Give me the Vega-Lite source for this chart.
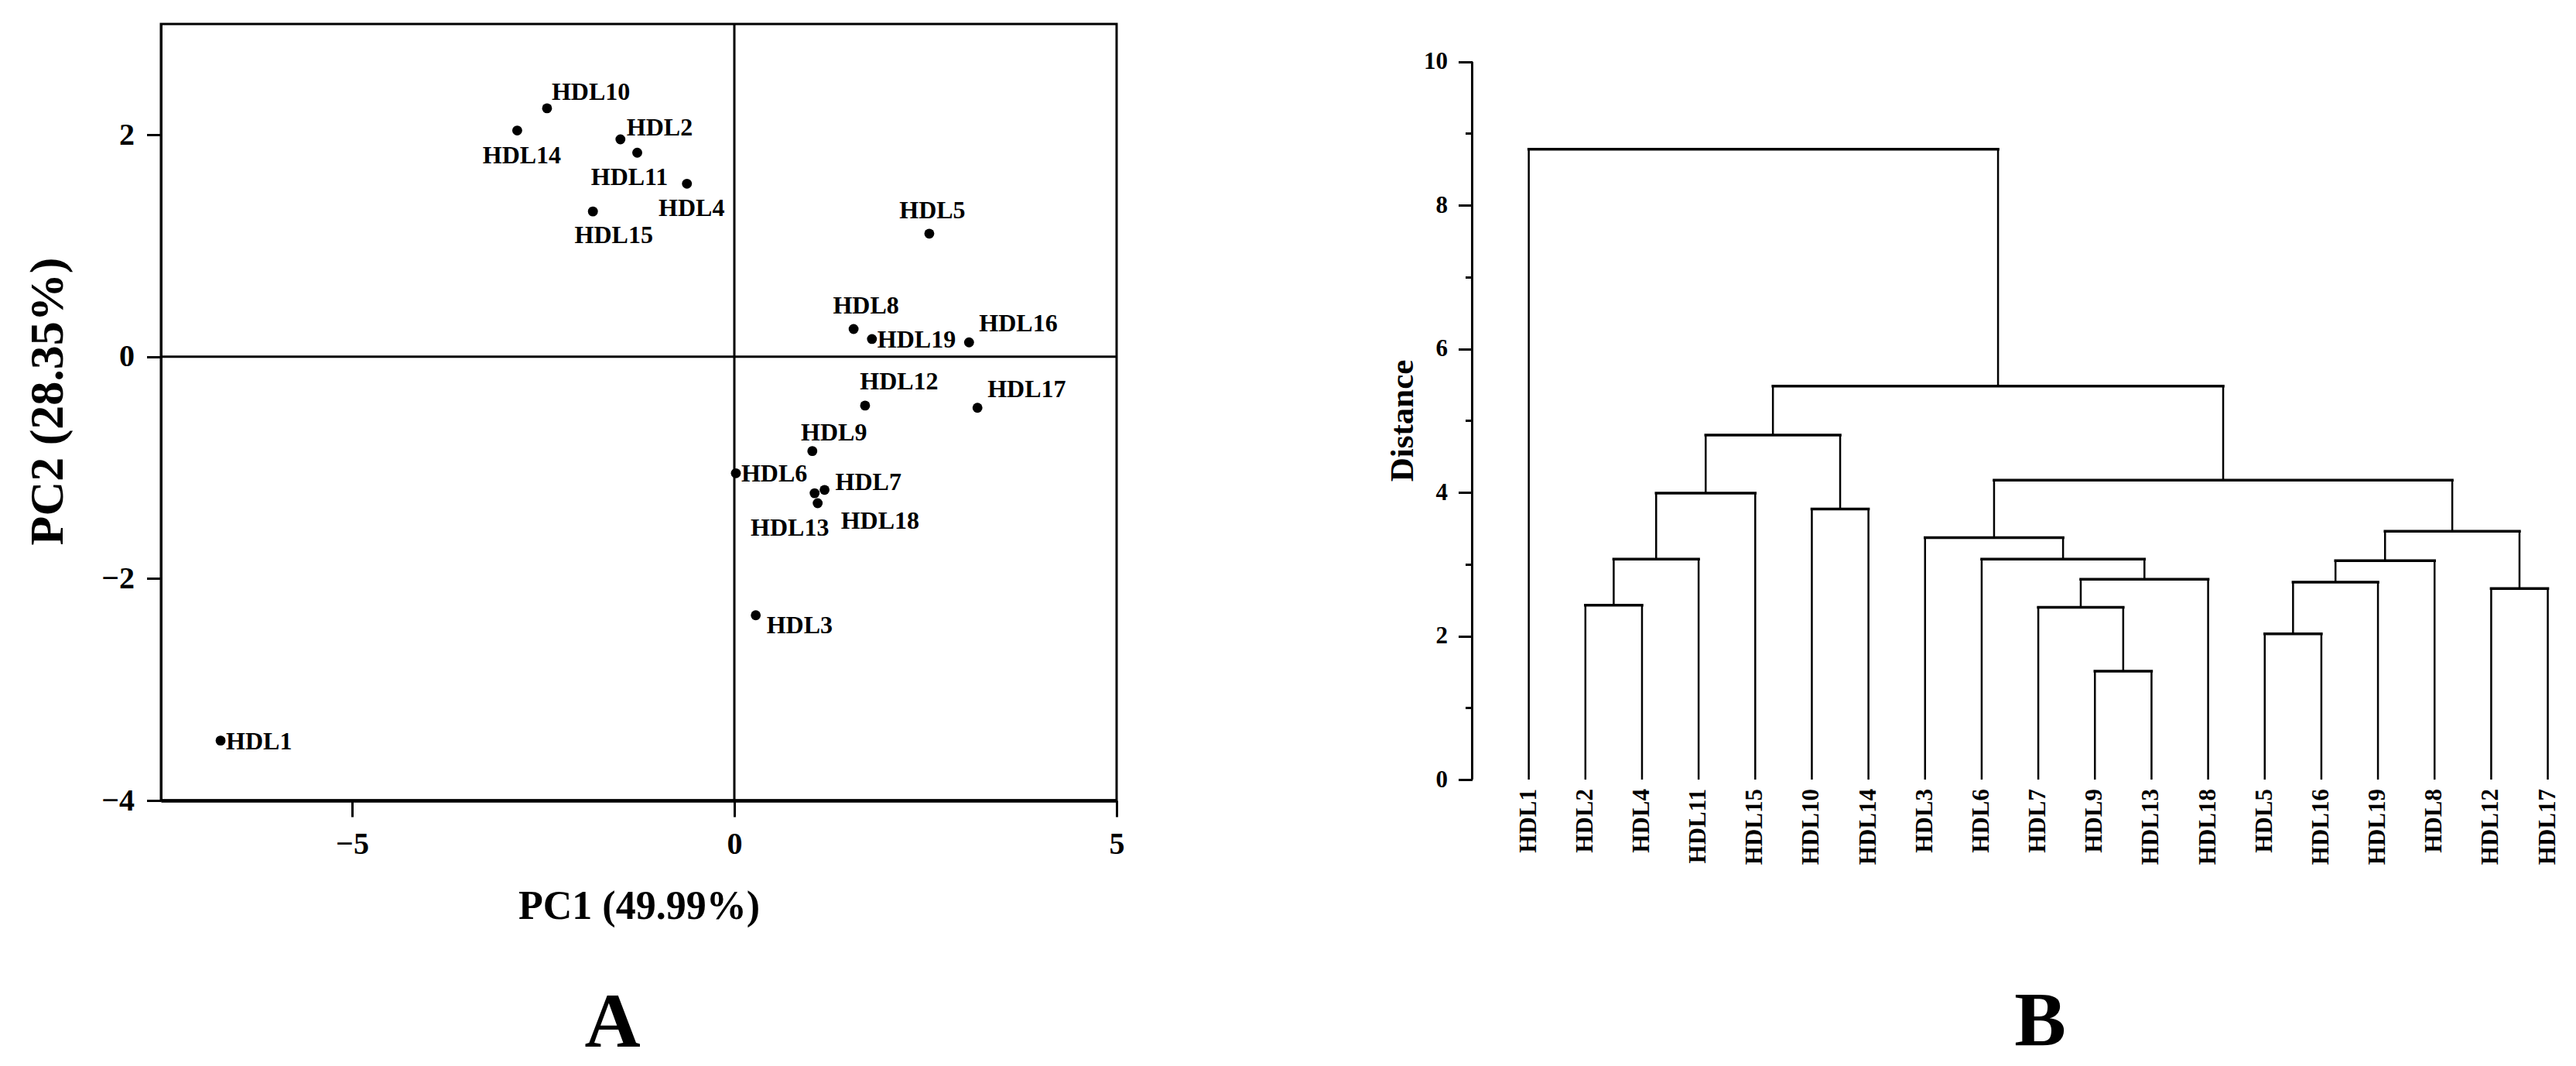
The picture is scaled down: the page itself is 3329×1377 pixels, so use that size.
{
  "$schema": "https://vega.github.io/schema/vega-lite/v6.json",
  "background": "white",
  "padding": {"left": 29, "top": 28, "right": 0, "bottom": 0},
  "config": {
    "font": "Liberation Serif",
    "view": {"stroke": null},
    "axis": {"domainColor": "black", "tickColor": "black", "labelColor": "black", "titleColor": "black", "grid": false, "labelFont": "Liberation Serif", "titleFont": "Liberation Serif", "labelFontWeight": "bold", "titleFontWeight": "bold", "labelFlush": false},
    "title": {"font": "Liberation Serif", "fontWeight": "bold", "color": "black"}
  },
  "datasets": {
    "pca": [
      {"name": "HDL1", "pc1": -6.72, "pc2": -3.46},
      {"name": "HDL2", "pc1": -1.49, "pc2": 1.96},
      {"name": "HDL3", "pc1": 0.28, "pc2": -2.33},
      {"name": "HDL4", "pc1": -0.62, "pc2": 1.56},
      {"name": "HDL5", "pc1": 2.55, "pc2": 1.11},
      {"name": "HDL6", "pc1": 0.02, "pc2": -1.05},
      {"name": "HDL7", "pc1": 1.18, "pc2": -1.2},
      {"name": "HDL8", "pc1": 1.56, "pc2": 0.25},
      {"name": "HDL9", "pc1": 1.02, "pc2": -0.85},
      {"name": "HDL10", "pc1": -2.45, "pc2": 2.24},
      {"name": "HDL11", "pc1": -1.27, "pc2": 1.84},
      {"name": "HDL12", "pc1": 1.71, "pc2": -0.44},
      {"name": "HDL13", "pc1": 1.05, "pc2": -1.23},
      {"name": "HDL14", "pc1": -2.84, "pc2": 2.04},
      {"name": "HDL15", "pc1": -1.85, "pc2": 1.31},
      {"name": "HDL16", "pc1": 3.07, "pc2": 0.13},
      {"name": "HDL17", "pc1": 3.18, "pc2": -0.46},
      {"name": "HDL18", "pc1": 1.09, "pc2": -1.32},
      {"name": "HDL19", "pc1": 1.8, "pc2": 0.16}
    ],
    "merges": [
      {"xl": 2, "xr": 3, "hl": 0, "hr": 0, "h": 2.43},
      {"xl": 2.5, "xr": 4, "hl": 2.43, "hr": 0, "h": 3.07},
      {"xl": 3.25, "xr": 5, "hl": 3.07, "hr": 0, "h": 3.99},
      {"xl": 6, "xr": 7, "hl": 0, "hr": 0, "h": 3.77},
      {"xl": 4.125, "xr": 6.5, "hl": 3.99, "hr": 3.77, "h": 4.8},
      {"xl": 11, "xr": 12, "hl": 0, "hr": 0, "h": 1.51},
      {"xl": 10, "xr": 11.5, "hl": 0, "hr": 1.51, "h": 2.4},
      {"xl": 10.75, "xr": 13, "hl": 2.4, "hr": 0, "h": 2.79},
      {"xl": 9, "xr": 11.875, "hl": 0, "hr": 2.79, "h": 3.07},
      {"xl": 8, "xr": 10.4375, "hl": 0, "hr": 3.07, "h": 3.37},
      {"xl": 14, "xr": 15, "hl": 0, "hr": 0, "h": 2.03},
      {"xl": 14.5, "xr": 16, "hl": 2.03, "hr": 0, "h": 2.75},
      {"xl": 15.25, "xr": 17, "hl": 2.75, "hr": 0, "h": 3.05},
      {"xl": 18, "xr": 19, "hl": 0, "hr": 0, "h": 2.66},
      {"xl": 16.125, "xr": 18.5, "hl": 3.05, "hr": 2.66, "h": 3.46},
      {"xl": 9.21875, "xr": 17.3125, "hl": 3.37, "hr": 3.46, "h": 4.17},
      {"xl": 5.3125, "xr": 13.265625, "hl": 4.8, "hr": 4.17, "h": 5.48},
      {"xl": 1, "xr": 9.2890625, "hl": 0, "hr": 5.48, "h": 8.78}
    ],
    "leaves": [
      {"name": "HDL1", "pos": 1}, {"name": "HDL2", "pos": 2}, {"name": "HDL4", "pos": 3},
      {"name": "HDL11", "pos": 4}, {"name": "HDL15", "pos": 5}, {"name": "HDL10", "pos": 6},
      {"name": "HDL14", "pos": 7}, {"name": "HDL3", "pos": 8}, {"name": "HDL6", "pos": 9},
      {"name": "HDL7", "pos": 10}, {"name": "HDL9", "pos": 11}, {"name": "HDL13", "pos": 12},
      {"name": "HDL18", "pos": 13}, {"name": "HDL5", "pos": 14}, {"name": "HDL16", "pos": 15},
      {"name": "HDL19", "pos": 16}, {"name": "HDL8", "pos": 17}, {"name": "HDL12", "pos": 18},
      {"name": "HDL17", "pos": 19}
    ]
  },
  "spacing": 459.5,
  "bounds": "flush",
  "hconcat": [
    {
      "width": 1235,
      "height": 1003,
      "view": {"stroke": "black", "strokeWidth": 3},
      "title": {"text": "A", "orient": "bottom", "anchor": "middle", "frame": "group", "fontSize": 100, "offset": 126, "dx": -34, "baseline": "middle"},
      "layer": [
        {
          "data": {"name": "pca"},
          "mark": {"type": "circle", "color": "black", "size": 165, "opacity": 1},
          "encoding": {
            "x": {"field": "pc1", "type": "quantitative", "scale": {"domain": [-7.5, 5], "nice": false, "zero": false},
              "axis": {"values": [-5, 0, 5], "format": "d", "tickSize": 21, "tickWidth": 3, "domainWidth": 4.5, "labelFontSize": 40, "labelPadding": 15, "title": "PC1 (49.99%)", "titleFontSize": 52, "titlePadding": 35}},
            "y": {"field": "pc2", "type": "quantitative", "scale": {"domain": [-4, 3], "nice": false, "zero": false},
              "axis": {"values": [-4, -2, 0, 2], "format": "d", "tickSize": 18.5, "tickWidth": 3, "domainWidth": 3, "labelFontSize": 40, "labelPadding": 16, "title": "PC2 (28.35%)", "titleFontSize": 62, "titlePadding": 37, "titleY": 487}}
          }
        },
        {
          "data": {"values": [{}]},
          "mark": {"type": "rule", "color": "black", "strokeWidth": 3},
          "encoding": {"x": {"datum": 0, "type": "quantitative"}}
        },
        {
          "data": {"values": [{}]},
          "mark": {"type": "rule", "color": "black", "strokeWidth": 3},
          "encoding": {"y": {"datum": 0, "type": "quantitative"}}
        },
        {
          "data": {"name": "pca"},
          "transform": [{"filter": {"field": "name", "oneOf": ["HDL19", "HDL6", "HDL1"]}}],
          "mark": {"type": "text", "align": "left", "baseline": "middle", "dx": 7, "dy": 1, "fontSize": 32, "fontWeight": "bold", "font": "Liberation Serif", "color": "black"},
          "encoding": {"x": {"field": "pc1", "type": "quantitative"}, "y": {"field": "pc2", "type": "quantitative"}, "text": {"field": "name"}}
        },
        {
          "data": {"name": "pca"},
          "transform": [{"filter": {"field": "name", "oneOf": ["HDL3"]}}],
          "mark": {"type": "text", "align": "left", "baseline": "middle", "dx": 14, "dy": 13, "fontSize": 32, "fontWeight": "bold", "font": "Liberation Serif", "color": "black"},
          "encoding": {"x": {"field": "pc1", "type": "quantitative"}, "y": {"field": "pc2", "type": "quantitative"}, "text": {"field": "name"}}
        },
        {
          "data": {"name": "pca"},
          "transform": [{"filter": {"field": "name", "oneOf": ["HDL18"]}}],
          "mark": {"type": "text", "align": "left", "baseline": "middle", "dx": 30, "dy": 23, "fontSize": 32, "fontWeight": "bold", "font": "Liberation Serif", "color": "black"},
          "encoding": {"x": {"field": "pc1", "type": "quantitative"}, "y": {"field": "pc2", "type": "quantitative"}, "text": {"field": "name"}}
        },
        {
          "data": {"name": "pca"},
          "transform": [{"filter": {"field": "name", "oneOf": ["HDL10"]}}],
          "mark": {"type": "text", "align": "left", "baseline": "middle", "dx": 6, "dy": -21, "fontSize": 32, "fontWeight": "bold", "font": "Liberation Serif", "color": "black"},
          "encoding": {"x": {"field": "pc1", "type": "quantitative"}, "y": {"field": "pc2", "type": "quantitative"}, "text": {"field": "name"}}
        },
        {
          "data": {"name": "pca"},
          "transform": [{"filter": {"field": "name", "oneOf": ["HDL2"]}}],
          "mark": {"type": "text", "align": "left", "baseline": "middle", "dx": 8, "dy": -15, "fontSize": 32, "fontWeight": "bold", "font": "Liberation Serif", "color": "black"},
          "encoding": {"x": {"field": "pc1", "type": "quantitative"}, "y": {"field": "pc2", "type": "quantitative"}, "text": {"field": "name"}}
        },
        {
          "data": {"name": "pca"},
          "transform": [{"filter": {"field": "name", "oneOf": ["HDL16", "HDL17"]}}],
          "mark": {"type": "text", "align": "left", "baseline": "middle", "dx": 13, "dy": -24, "fontSize": 32, "fontWeight": "bold", "font": "Liberation Serif", "color": "black"},
          "encoding": {"x": {"field": "pc1", "type": "quantitative"}, "y": {"field": "pc2", "type": "quantitative"}, "text": {"field": "name"}}
        },
        {
          "data": {"name": "pca"},
          "transform": [{"filter": {"field": "name", "oneOf": ["HDL7"]}}],
          "mark": {"type": "text", "align": "left", "baseline": "middle", "dx": 14, "dy": -10, "fontSize": 32, "fontWeight": "bold", "font": "Liberation Serif", "color": "black"},
          "encoding": {"x": {"field": "pc1", "type": "quantitative"}, "y": {"field": "pc2", "type": "quantitative"}, "text": {"field": "name"}}
        },
        {
          "data": {"name": "pca"},
          "transform": [{"filter": {"field": "name", "oneOf": ["HDL5"]}}],
          "mark": {"type": "text", "align": "center", "baseline": "middle", "dx": 4, "dy": -30, "fontSize": 32, "fontWeight": "bold", "font": "Liberation Serif", "color": "black"},
          "encoding": {"x": {"field": "pc1", "type": "quantitative"}, "y": {"field": "pc2", "type": "quantitative"}, "text": {"field": "name"}}
        },
        {
          "data": {"name": "pca"},
          "transform": [{"filter": {"field": "name", "oneOf": ["HDL8"]}}],
          "mark": {"type": "text", "align": "center", "baseline": "middle", "dx": 16, "dy": -30, "fontSize": 32, "fontWeight": "bold", "font": "Liberation Serif", "color": "black"},
          "encoding": {"x": {"field": "pc1", "type": "quantitative"}, "y": {"field": "pc2", "type": "quantitative"}, "text": {"field": "name"}}
        },
        {
          "data": {"name": "pca"},
          "transform": [{"filter": {"field": "name", "oneOf": ["HDL12"]}}],
          "mark": {"type": "text", "align": "center", "baseline": "middle", "dx": 44, "dy": -31, "fontSize": 32, "fontWeight": "bold", "font": "Liberation Serif", "color": "black"},
          "encoding": {"x": {"field": "pc1", "type": "quantitative"}, "y": {"field": "pc2", "type": "quantitative"}, "text": {"field": "name"}}
        },
        {
          "data": {"name": "pca"},
          "transform": [{"filter": {"field": "name", "oneOf": ["HDL9"]}}],
          "mark": {"type": "text", "align": "center", "baseline": "middle", "dx": 28, "dy": -24, "fontSize": 32, "fontWeight": "bold", "font": "Liberation Serif", "color": "black"},
          "encoding": {"x": {"field": "pc1", "type": "quantitative"}, "y": {"field": "pc2", "type": "quantitative"}, "text": {"field": "name"}}
        },
        {
          "data": {"name": "pca"},
          "transform": [{"filter": {"field": "name", "oneOf": ["HDL14", "HDL4"]}}],
          "mark": {"type": "text", "align": "center", "baseline": "middle", "dx": 6, "dy": 32, "fontSize": 32, "fontWeight": "bold", "font": "Liberation Serif", "color": "black"},
          "encoding": {"x": {"field": "pc1", "type": "quantitative"}, "y": {"field": "pc2", "type": "quantitative"}, "text": {"field": "name"}}
        },
        {
          "data": {"name": "pca"},
          "transform": [{"filter": {"field": "name", "oneOf": ["HDL11"]}}],
          "mark": {"type": "text", "align": "center", "baseline": "middle", "dx": -10, "dy": 32, "fontSize": 32, "fontWeight": "bold", "font": "Liberation Serif", "color": "black"},
          "encoding": {"x": {"field": "pc1", "type": "quantitative"}, "y": {"field": "pc2", "type": "quantitative"}, "text": {"field": "name"}}
        },
        {
          "data": {"name": "pca"},
          "transform": [{"filter": {"field": "name", "oneOf": ["HDL15"]}}],
          "mark": {"type": "text", "align": "center", "baseline": "middle", "dx": 27, "dy": 31, "fontSize": 32, "fontWeight": "bold", "font": "Liberation Serif", "color": "black"},
          "encoding": {"x": {"field": "pc1", "type": "quantitative"}, "y": {"field": "pc2", "type": "quantitative"}, "text": {"field": "name"}}
        },
        {
          "data": {"name": "pca"},
          "transform": [{"filter": {"field": "name", "oneOf": ["HDL13"]}}],
          "mark": {"type": "text", "align": "center", "baseline": "middle", "dx": -32, "dy": 45, "fontSize": 32, "fontWeight": "bold", "font": "Liberation Serif", "color": "black"},
          "encoding": {"x": {"field": "pc1", "type": "quantitative"}, "y": {"field": "pc2", "type": "quantitative"}, "text": {"field": "name"}}
        }
      ]
    },
    {
      "width": 1412,
      "height": 976,
      "title": {"text": "B", "orient": "bottom", "anchor": "middle", "frame": "group", "fontSize": 100, "offset": 203, "dx": 28, "baseline": "middle"},
      "resolve": {"axis": {"y": "independent"}},
      "layer": [
        {
          "data": {"name": "merges"},
          "mark": {"type": "rule", "color": "black", "strokeWidth": 3.5, "strokeCap": "square"},
          "encoding": {
            "x": {"field": "xl", "type": "quantitative", "scale": {"domain": [0, 19.3], "nice": false, "zero": false}, "axis": null},
            "x2": {"field": "xr"},
            "y": {"field": "h", "type": "quantitative", "scale": {"domain": [0, 10.525], "nice": false, "zero": false},
              "axis": {"orient": "left", "values": [0, 2, 4, 6, 8, 10], "format": "d", "tickSize": 18, "tickWidth": 3, "domain": false, "labelFontSize": 31, "labelPadding": 14, "title": "Distance", "titleFontSize": 43, "titlePadding": 5, "titleY": 512}}
          }
        },
        {
          "data": {"name": "merges"},
          "mark": {"type": "rule", "color": "black", "strokeWidth": 2.5},
          "encoding": {
            "x": {"field": "xl", "type": "quantitative", "axis": null},
            "y": {"field": "hl", "type": "quantitative", "axis": null},
            "y2": {"field": "h"}
          }
        },
        {
          "data": {"name": "merges"},
          "mark": {"type": "rule", "color": "black", "strokeWidth": 2.5},
          "encoding": {
            "x": {"field": "xr", "type": "quantitative", "axis": null},
            "y": {"field": "hr", "type": "quantitative", "axis": null},
            "y2": {"field": "h"}
          }
        },
        {
          "data": {"values": [{}]},
          "mark": {"type": "rule", "color": "black", "strokeWidth": 3},
          "encoding": {
            "x": {"datum": 0, "type": "quantitative", "axis": null},
            "y": {"datum": 0, "type": "quantitative", "axis": {"orient": "left", "values": [1, 3, 5, 7, 9], "tickSize": 9, "tickWidth": 3, "labels": false, "domain": false, "title": null}},
            "y2": {"datum": 10}
          }
        },
        {
          "data": {"name": "leaves"},
          "mark": {"type": "text", "angle": 270, "align": "right", "baseline": "middle", "dx": -12, "fontSize": 31, "fontWeight": "bold", "font": "Liberation Serif", "color": "black"},
          "encoding": {
            "x": {"field": "pos", "type": "quantitative", "axis": null},
            "y": {"datum": 0, "type": "quantitative", "axis": null},
            "text": {"field": "name"}
          }
        }
      ]
    }
  ]
}
